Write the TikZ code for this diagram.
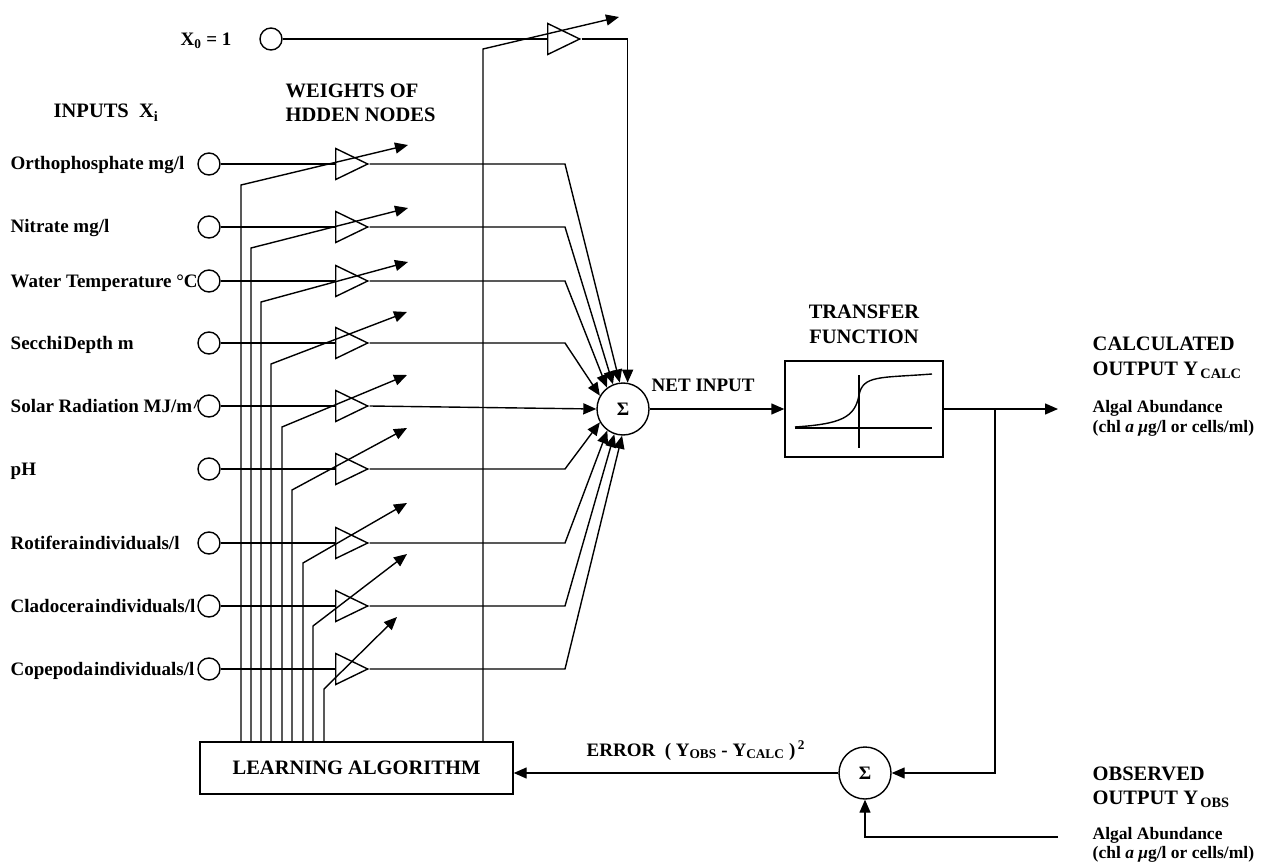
\documentclass[tikz,border=0pt]{standalone}
\usepackage{fontspec}
\setmainfont{Liberation Serif}
\usetikzlibrary{arrows.meta,positioning,shapes.geometric}

\begin{document}
\begin{tikzpicture}[x=1pt,y=-1pt,line width=1.4pt,
				>={Triangle[length=13pt,width=11pt]},
				every node/.style={font=\bfseries\fontsize{19}{21}\selectfont},
				lbl/.style={anchor=base west,inner sep=0},
				big/.style={font=\bfseries\fontsize{20.5}{22}\selectfont},
				head/.style={anchor=base,inner sep=0,big},
				note/.style={anchor=base west,inner sep=0,font=\bfseries\fontsize{17.5}{19}\selectfont},
				inp/.style={circle,draw,fill=white,minimum size=22pt,inner sep=0},
				amp/.style={isosceles triangle,isosceles triangle stretches,draw,minimum width=31pt,minimum height=32pt,inner sep=0,anchor=west},
				sum/.style={circle,draw,fill=white,minimum size=52pt,inner sep=0},
				box/.style={rectangle,draw,inner sep=0},
			]
			\useasboundingbox (0,0) rectangle (1262,864);

			\node (x0lab) [lbl] at (180,46) {X\textsubscript{0} = 1};
			\node (inputs) [lbl,big] at (53,118) {INPUTS\ \ X\textsubscript{i}};
			\node (weights) [lbl,big] at (285,98) {WEIGHTS OF};
			\node (hidden) [lbl,big] at (285,122) {HDDEN NODES};

			\node (lab1) [lbl] at (10,170) {Orthophosphate mg/l};
			\node (lab2) [lbl] at (10,233) {Nitrate mg/l};
			\node (lab3) [lbl] at (10,287) {Water Temperature °C};
			\node (lab4) [lbl] at (10,349) {Secchi\kern1pt Depth m};
			\node (lab5) [lbl] at (10,412) {Solar Radiation MJ/m\textasciicircum 2};
			\node (lab6) [lbl] at (10,475) {pH};
			\node (lab7) [lbl] at (10,549) {Rotifera\kern1pt individuals/l};
			\node (lab8) [lbl] at (10,612) {Cladocera\kern1pt individuals/l};
			\node (lab9) [lbl] at (10,675) {Copepoda\kern1pt individuals/l};

			\node (in0) [inp] at (271,39) {};
			\node (in1) [inp] at (209,164) {};
			\node (in2) [inp] at (209,227) {};
			\node (in3) [inp] at (209,281) {};
			\node (in4) [inp] at (209,343) {};
			\node (in5) [inp] at (209,406) {};
			\node (in6) [inp] at (209,469) {};
			\node (in7) [inp] at (209,543) {};
			\node (in8) [inp] at (209,606) {};
			\node (in9) [inp] at (209,669) {};

			\node (t0) [amp] at (547,39) {};
			\node (t1) [amp] at (335,164) {};
			\node (t2) [amp] at (335,227) {};
			\node (t3) [amp] at (335,281) {};
			\node (t4) [amp] at (335,343) {};
			\node (t5) [amp] at (335,406) {};
			\node (t6) [amp] at (335,469) {};
			\node (t7) [amp] at (335,543) {};
			\node (t8) [amp] at (335,606) {};
			\node (t9) [amp] at (335,669) {};

			\node (learn) [box,big,minimum width=313pt,minimum height=52pt] at (356.5,768) {LEARNING ALGORITHM};
			\node (sig) [sum] at (623,409) {Σ};
			\node (tf) [box,minimum width=158pt,minimum height=96pt] at (864,409) {};
			\node (sig2) [sum] at (865,773) {Σ};

			\node (trans) [head] at (864,318) {TRANSFER};
			\node (func) [head] at (864,343) {FUNCTION};
			\node (net) [lbl] at (651,391) {NET INPUT};
			\node (err) [lbl] at (586,756) {ERROR\ \ ( Y\textsubscript{OBS} - Y\textsubscript{CALC} )\textsuperscript{\,2}};

			\node (calc1) [lbl,big] at (1092,350) {CALCULATED};
			\node (calc2) [lbl,big] at (1092,375) {OUTPUT Y\textsubscript{\,CALC}};
			\node (calc3) [note] at (1092,412) {Algal Abundance};
			\node (calc4) [note] at (1092,432) {(chl \textit{a} \textit{μ}g/l or cells/ml)};
			\node (obs1) [lbl,big] at (1092,780) {OBSERVED};
			\node (obs2) [lbl,big] at (1092,804) {OUTPUT Y\textsubscript{\,OBS}};
			\node (obs3) [note] at (1092,839) {Algal Abundance};
			\node (obs4) [note] at (1092,858) {(chl \textit{a} \textit{μ}g/l or cells/ml)};

			\coordinate (bend) at (565,0);
			\coordinate (w0) at (619,17);
			\coordinate (w1) at (408,145);
			\coordinate (w2) at (408,208);
			\coordinate (w3) at (408,262);
			\coordinate (w4) at (407,312);
			\coordinate (w5) at (407,375);
			\coordinate (w6) at (407,428);
			\coordinate (w7) at (407,503);
			\coordinate (w8) at (407,554);
			\coordinate (w9) at (397,617);
			\coordinate (split) at (995,409);
			\coordinate (out) at (1058,409);
			\coordinate (obs) at (1058,837);

			\draw (in0) -- (t0);
			\draw (in1) -- (t1);
			\draw (in2) -- (t2);
			\draw (in3) -- (t3);
			\draw (in4) -- (t4);
			\draw (in5) -- (t5);
			\draw (in6) -- (t6);
			\draw (in7) -- (t7);
			\draw (in8) -- (t8);
			\draw (in9) -- (t9);

			\draw[->] (learn.north -| 483,0) -- (483,49) -- (w0);
			\draw[->] (learn.north -| 241,0) -- (241,185) -- (w1);
			\draw[->] (learn.north -| 251,0) -- (251,248) -- (w2);
			\draw[->] (learn.north -| 261,0) -- (261,302) -- (w3);
			\draw[->] (learn.north -| 271,0) -- (271,364) -- (w4);
			\draw[->] (learn.north -| 282,0) -- (282,427) -- (w5);
			\draw[->] (learn.north -| 292,0) -- (292,490) -- (w6);
			\draw[->] (learn.north -| 303,0) -- (303,563) -- (w7);
			\draw[->] (learn.north -| 313,0) -- (313,626) -- (w8);
			\draw[->] (learn.north -| 324,0) -- (324,689) -- (w9);

			\draw[->] (t0.apex) -| (sig.80);
			\draw[->] (t1.apex) -- (t1.apex -| bend) -- (sig.97);
			\draw[->] (t2.apex) -- (t2.apex -| bend) -- (sig.112);
			\draw[->] (t3.apex) -- (t3.apex -| bend) -- (sig.127);
			\draw[->] (t4.apex) -- (t4.apex -| bend) -- (sig.150);
			\draw[->] (t5.apex) -- (sig.180);
			\draw[->] (t6.apex) -- (t6.apex -| bend) -- (sig.210);
			\draw[->] (t7.apex) -- (t7.apex -| bend) -- (sig.234);
			\draw[->] (t8.apex) -- (t8.apex -| bend) -- (sig.251);
			\draw[->] (t9.apex) -- (t9.apex -| bend) -- (sig.268);

			\draw[->] (sig) -- (tf);
			\draw[->] (tf) -- (out);
			\draw[->] (split) |- (sig2);
			\draw[->] (obs) -| (sig2);
			\draw[->] (sig2) -- (learn.east |- sig2);

			\draw (795,428) -- (932,428);
			\draw (859,375) -- (859,448);
			\draw (795,427) .. controls (840,424) and (855,418) .. (859,395) .. controls (863,375) and (880,378) .. (932,374);
		\end{tikzpicture}
\end{document}
